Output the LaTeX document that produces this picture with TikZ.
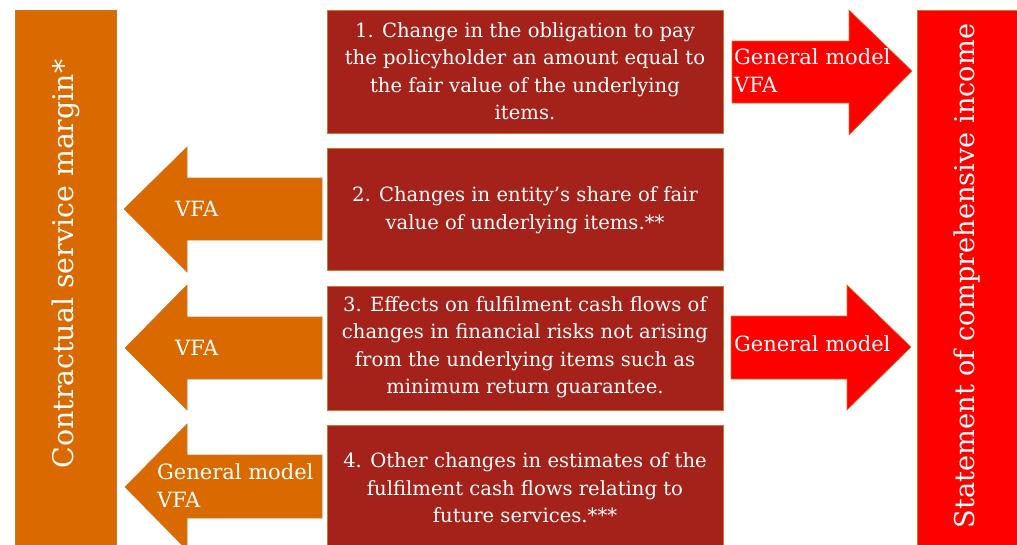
\documentclass[tikz,border=0pt]{standalone}
\usepackage{fontspec}
\setmainfont{DejaVu Serif}
\definecolor{orng}{HTML}{DA6A00}
\definecolor{dred}{HTML}{A5221A}
\definecolor{brd}{HTML}{C8782E}
\begin{document}
\begin{tikzpicture}[x=1pt,y=-1pt,
  bar/.style={fill=#1,draw=brd,line width=0.6pt},
  box/.style={fill=dred,draw=brd,line width=0.6pt},
  shp/.style={fill=#1,draw=brd,line width=0.6pt},
  boxtext/.style={text=white,align=center,font=\fontsize{19.6}{27.5}\selectfont},
  arrtext/.style={text=white,align=left,font=\fontsize{21}{28}\selectfont,anchor=west,inner sep=1pt},
  bartext/.style={text=white,rotate=90,font=\fontsize{#1}{32}\selectfont}]
\useasboundingbox (0,0) rectangle (1017,544);
% side bars
\draw[bar=orng] (15,10) rectangle (116,560);
\draw[bar=red] (917,10) rectangle (1030,560);
\node[bartext=28.4] (csm) at (66,264) {Contractual service margin*};
\node[bartext=27.2] (sci) at (967,276) {Statement of comprehensive income};
% boxes
\draw[box] (327,10) rectangle (723,133);
\draw[box] (327,148) rectangle (723,270);
\draw[box] (327,286) rectangle (723,410);
\draw[box] (327,425) rectangle (723,560);
\node[boxtext] (b1) at (525,71) {1. Change in the obligation to pay\\the policyholder an amount equal to\\the fair value of the underlying\\items.};
\node[boxtext] (b2) at (525,210) {2. Changes in entity’s share of fair\\value of underlying items.**};
\node[boxtext] (b3) at (525,347) {3. Effects on fulfilment cash flows of\\changes in financial risks not arising\\from the underlying items such as\\minimum return guarantee.};
\node[boxtext] (b4) at (525,488) {4. Other changes in estimates of the\\fulfilment cash flows relating to\\future services.***};
% right arrows
\draw[shp=red] (732,41) -- (849,41) -- (849,10) -- (912,71) -- (849,135) -- (849,103) -- (732,103) -- cycle;
\draw[shp=red] (731,316) -- (847,316) -- (847,285) -- (911,347) -- (847,410) -- (847,379) -- (731,379) -- cycle;
% left arrows
\draw[shp=orng] (322,178) -- (187,178) -- (187,147) -- (124,209) -- (187,272) -- (187,240) -- (322,240) -- cycle;
\draw[shp=orng] (322,317) -- (187,317) -- (187,285) -- (125,348) -- (187,410) -- (187,379) -- (322,379) -- cycle;
\draw[shp=orng] (322,455) -- (187,455) -- (187,424) -- (125,487) -- (187,550) -- (187,518) -- (322,518) -- cycle;
% arrow labels
\node[arrtext] (r1) at (733,71) {General model\\VFA};
\node[arrtext] (r3) at (733,344) {General model};
\node[arrtext] (l2) at (174,209) {VFA};
\node[arrtext] (l3) at (174,348) {VFA};
\node[arrtext] (l4) at (156,486) {General model\\VFA};
\end{tikzpicture}
\end{document}
